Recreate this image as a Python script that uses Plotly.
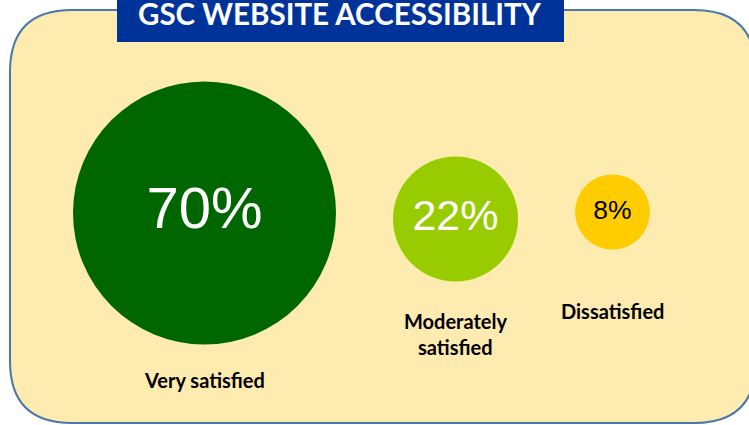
import plotly.graph_objects as go

# ---------------- data ----------------
categories = ["Very satisfied", "Moderately satisfied", "Dissatisfied"]
label_lines = [["Very satisfied"], ["Moderately", "satisfied"], ["Dissatisfied"]]
values = [70, 22, 8]
title_text = "GSC WEBSITE ACCESSIBILITY"

# ---------------- styles / layout ----------------
W, H = 749, 425
bubble_colors = ["#006600", "#99CC00", "#FFCC00"]
bubble_diam = [263, 125, 75]          # px diameters (style)
text_sizes = [58, 43, 26.5]
text_colors = ["#FFFFFF", "#FFFFFF", "#000000"]
bubble_cy = [213, 219, 212]
first_left = 73
gap = 57
label_top_y = [380, 321, 311]
line_gap = 26

# derive centres from packing the bubbles left to right
cx = []
edge = first_left
for d in bubble_diam:
    cx.append(edge + d / 2)
    edge += d + gap

fig = go.Figure()

fig.add_trace(go.Scatter(
    x=cx, y=bubble_cy,
    mode="markers+text",
    marker=dict(size=bubble_diam, color=bubble_colors, line=dict(width=0), opacity=1),
    text=[f"{v}%" for v in values],
    textposition="middle center",
    textfont=dict(family="Liberation Sans, Arial, sans-serif", size=text_sizes, color=text_colors),
    hoverinfo="skip",
    showlegend=False,
))

# rounded background panel
x0, y0, x1, y1, r = 10, 10, 756, 423, 62
path = (f"M {x0+r},{y0} L {x1-r},{y0} Q {x1},{y0} {x1},{y0+r} "
        f"L {x1},{y1-r} Q {x1},{y1} {x1-r},{y1} L {x0+r},{y1} "
        f"Q {x0},{y1} {x0},{y1-r} L {x0},{y0+r} Q {x0},{y0} {x0+r},{y0} Z")
shapes = [
    dict(type="path", path=path, xref="x", yref="y", layer="below",
         fillcolor="#FDEBB0", line=dict(color="#4A78AA", width=2)),
    dict(type="rect", xref="x", yref="y", x0=117, x1=564, y0=-2, y1=42,
         fillcolor="#003399", line=dict(width=0), layer="below"),
]

annotations = [dict(
    x=339.5, y=13, xref="x", yref="y", text=f"<b>{title_text}</b>", showarrow=False,
    font=dict(family="Lato, sans-serif", size=29.5, color="#FFFFFF"),
    xanchor="center", yanchor="middle")]

for i, lines in enumerate(label_lines):
    for j, ln in enumerate(lines):
        annotations.append(dict(
            x=cx[i], y=label_top_y[i] + j * line_gap, xref="x", yref="y",
            text=f"<b>{ln}</b>", showarrow=False,
            font=dict(family="Lato, sans-serif", size=20, color="#000000"),
            xanchor="center", yanchor="middle"))

fig.update_layout(
    width=W, height=H,
    margin=dict(l=0, r=0, t=0, b=0),
    paper_bgcolor="#FFFFFF", plot_bgcolor="rgba(0,0,0,0)",
    xaxis=dict(range=[0, W], visible=False, fixedrange=True),
    yaxis=dict(range=[H, 0], visible=False, fixedrange=True),
    shapes=shapes, annotations=annotations,
    showlegend=False,
)

fig.write_html("out.html", config={"displayModeBar": False},
               post_script="document.body.style.margin='0';document.body.style.overflow='hidden';")
